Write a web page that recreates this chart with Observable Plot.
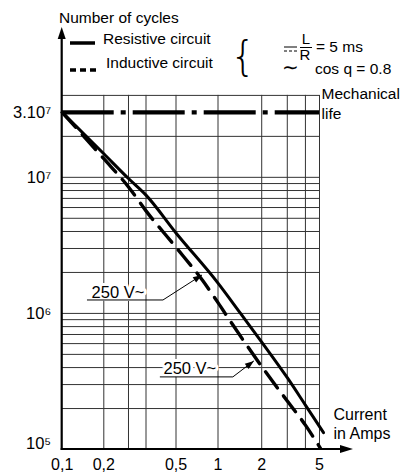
<!DOCTYPE html>
<html><head><meta charset="utf-8">
<script src="https://cdn.jsdelivr.net/npm/d3@7"></script>
<script src="https://cdn.jsdelivr.net/npm/@observablehq/plot@0.6"></script>
<style>
html,body{margin:0;padding:0;background:#fff;}
#chart svg{display:block;}
</style></head><body><div id="chart"></div>
<script>
const FONT = "'Liberation Sans', Arial, Helvetica, sans-serif";

// Resistive circuit (solid)
const resistiveCurrent = [0.1, 0.2, 0.3, 0.4, 0.5, 1, 1.43, 2, 3, 4, 5.33];
const resistiveCycles  = [3e7, 1.49e7, 9.8e6, 7.4e6, 3.9e6, 1.67e6, 1.0e6, 6.16e5, 3.37e5, 2.12e5, 1.33e5];
// Inductive circuit (dashed)
const inductiveCurrent = [0.1, 0.2, 0.3, 0.4, 0.5, 0.774, 1, 1.18, 2, 3, 4, 5.08];
const inductiveCycles  = [3e7, 1.37e7, 8.5e6, 5.67e6, 3.06e6, 1.75e6, 1.2e6, 9.2e5, 4.07e5, 2.27e5, 1.51e5, 1.02e5];
// Mechanical life
const mechanicalLife = 3e7;

const xTickValues = [0.1, 0.2, 0.5, 1, 2, 5];
const xTickLabels = ["0,1", "0,2", "0,5", "1", "2", "5"];
const yTickValues = [3e7, 1e7, 1e6, 1e5];
const yTickLabels = ["3.10⁷", "10⁷", "10⁶", "10⁵"];
const xGridValues = [0.2, 0.3, 0.4, 0.5, 1, 2, 3, 4, 5];
const yGridValues = [2e5, 3e5, 4e5, 5e5, 6e5, 7e5, 8e5, 9e5, 1e6, 2e6, 3e6, 4e6, 5e6, 6e6, 7e6, 8e6, 9e6, 1e7, 2e7, 4e7];

// "250 V~" call-outs: text and the point each arrow touches
const noteLabels  = ["250 V~", "250 V~"];
const noteCurrent = [0.774, 1.78];
const noteCycles  = [1.9e6, 4.44e5];

const resistive = resistiveCurrent.map((c, i) => ({current: c, cycles: resistiveCycles[i]}));
const inductive = inductiveCurrent.map((c, i) => ({current: c, cycles: inductiveCycles[i]}));
const xTicks = xTickValues.map((v, i) => ({v, label: xTickLabels[i]}));
const yTicks = yTickValues.map((v, i) => ({v, label: yTickLabels[i]}));

function decorations(index, scales) {
  const x = scales.x, y = scales.y;
  const g = d3.create("svg:g").attr("font-family", FONT).attr("fill", "#000").attr("text-anchor", "start");
  const txt = (px, py, size, s, anchor = "start") =>
    g.append("text").attr("x", px).attr("y", py).attr("font-size", size).attr("text-anchor", anchor).text(s);
  const ln = (x1, y1, x2, y2, w, dash) => {
    const l = g.append("line").attr("x1", x1).attr("x2", x2).attr("y1", y1).attr("y2", y2)
      .attr("stroke", "#000").attr("stroke-width", w);
    if (dash) l.attr("stroke-dasharray", dash);
    return l;
  };
  const x0 = x(0.1), y0 = y(1e5);
  // axes with arrows
  ln(x0, y0 + 1, x0, 36, 2.2);
  g.append("path").attr("d", `M${x0},27L${x0 - 4},39L${x0 + 4},39Z`);
  ln(x0 - 1, y0, 344, y0, 2.2);
  g.append("path").attr("d", `M353,${y0}L340,${y0 - 4}L340,${y0 + 4}Z`);

  // axis title
  txt(59, 23, 15.5, "Number of cycles");

  // legend
  ln(70, 43, 95, 43, 3.5);
  txt(103, 44, 15.5, "Resistive circuit");
  ln(70, 70, 96, 70, 3.5, "6,4");
  txt(106, 68, 15.5, "Inductive circuit");

  // brace and conditions
  g.append("text").attr("x", 243).attr("y", 70).attr("font-size", 40).attr("text-anchor", "middle")
    .attr("font-family", "'DejaVu Sans', sans-serif").attr("font-weight", 200).text("{");
  ln(284, 47, 297, 47, 1);
  ln(284, 51, 297, 51, 1, "3,2");
  txt(306, 44, 15, "L", "middle");
  ln(300, 47.5, 312, 47.5, 1);
  txt(305, 60, 15, "R", "middle");
  txt(316, 52, 15.5, "= 5 ms");
  txt(290, 74, 20, "∼", "middle");
  txt(315, 74, 15.5, "cos q = 0.8");

  // call-outs
  const offs = [{tx: -84, ty: 23, u0: -115, u1: -39, uy: 25}, {tx: -64, ty: 13, u0: -94, u1: -21, uy: 16}];
  noteLabels.forEach((lab, i) => {
    const px = x(noteCurrent[i]), py = y(noteCycles[i]);
    const o = offs[i];
    g.append("text").attr("x", px + o.tx).attr("y", py + o.ty).attr("font-size", 16.5)
      .attr("text-anchor", "middle").attr("stroke", "#fff").attr("stroke-width", 6)
      .attr("paint-order", "stroke").attr("stroke-linejoin", "round").text(lab);
    g.append("path").attr("d", `M${px + o.u0},${py + o.uy}L${px + o.u1},${py + o.uy}L${px},${py}`)
      .attr("fill", "none").attr("stroke", "#000").attr("stroke-width", 1);
    const ang = Math.atan2(py - (py + o.uy), px - (px + o.u1));
    const L = 9, W = 3.2;
    const bx = px - L * Math.cos(ang), by = py - L * Math.sin(ang);
    const nx = -Math.sin(ang) * W, ny = Math.cos(ang) * W;
    g.append("path").attr("d", `M${px},${py}L${bx + nx},${by + ny}L${bx - nx},${by - ny}Z`);
  });
  return g.node();
}

const chart = Plot.plot({
  width: 409,
  height: 473,
  marginLeft: 62, marginRight: 90, marginTop: 95, marginBottom: 24,
  style: {fontFamily: FONT, background: "#fff", color: "#000", overflow: "visible"},
  x: {type: "log", domain: [0.1, 0.2, 0.4, 0.5, 1, 5], range: [61.7, 103.3, 145.5, 175.5, 217.5, 319], axis: null},
  y: {type: "log", domain: [1e5, 4e7], range: [449, 94.9], axis: null},
  marks: [
    Plot.ruleY(yGridValues, {x1: 0.1, x2: 5, stroke: "#333", strokeWidth: 1}),
    Plot.ruleX(xGridValues, {y1: 1e5, y2: 4e7, stroke: "#333", strokeWidth: 1}),
    Plot.ruleY([mechanicalLife], {x1: 0.1, x2: 5, stroke: "#000", strokeWidth: 4.2, strokeDasharray: "52,7,5,7"}),
    Plot.line(inductive, {x: "current", y: "cycles", stroke: "#000", strokeWidth: 3.4, strokeDasharray: "20,10", curve: "monotone-x"}),
    Plot.line(resistive, {x: "current", y: "cycles", stroke: "#000", strokeWidth: 3, curve: "monotone-x"}),
    Plot.text(xTicks, {x: "v", y: 1e5, text: "label", dy: 15, fontSize: 16, fill: "#000"}),
    Plot.text(yTicks.filter(d => d.v > 1e5), {x: 0.1, y: "v", text: "label", dx: -11, textAnchor: "end", fontSize: 16.5, fill: "#000"}),
    Plot.text(yTicks.filter(d => d.v === 1e5), {x: 0.1, y: "v", text: "label", dx: -11, dy: -6, textAnchor: "end", fontSize: 16.5, fill: "#000"}),
    Plot.text(["Mechanical\nlife"], {x: 5, y: mechanicalLife, text: d => d, dx: 2, dy: -9.5, textAnchor: "start", lineHeight: 1.27, fontSize: 15.5, fill: "#000"}),
    Plot.text(["Current\nin Amps"], {x: 5, y: 1e5, text: d => d, dx: 14, dy: -26.5, textAnchor: "start", lineHeight: 1.2, fontSize: 16, fill: "#000"}),
    decorations
  ]
});
document.getElementById("chart").appendChild(chart);
</script></body></html>
